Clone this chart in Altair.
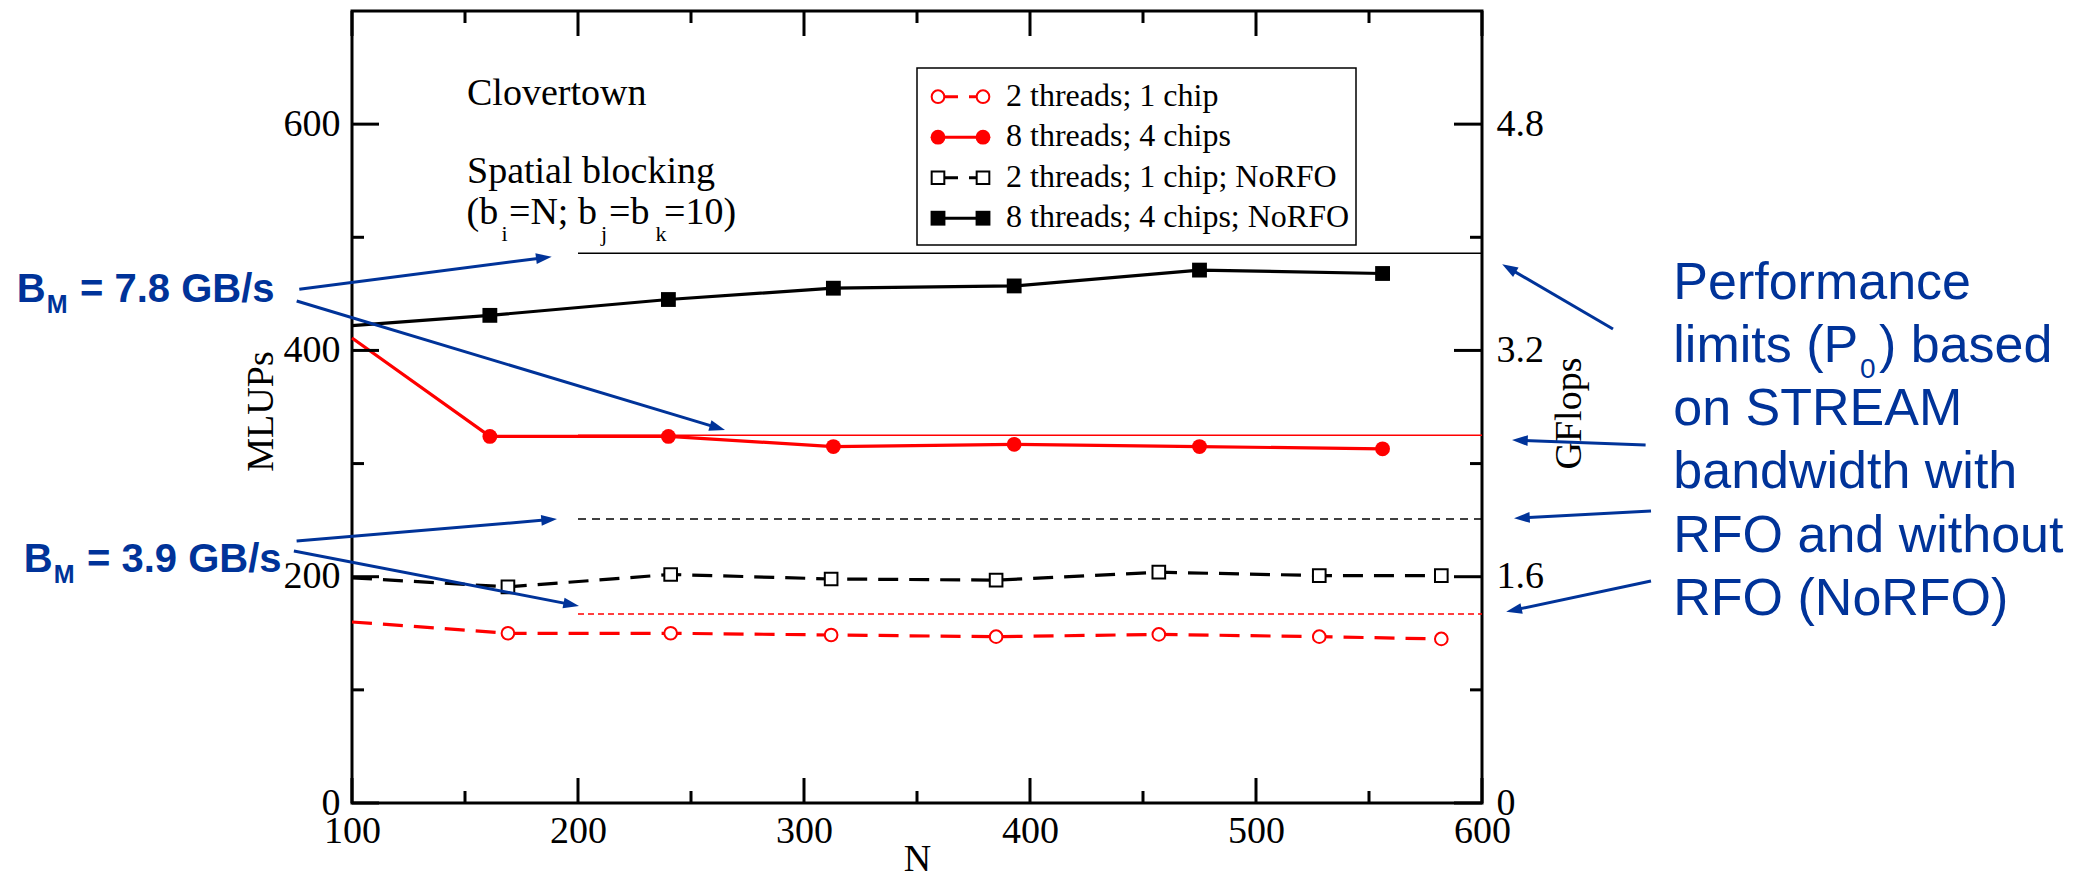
import math
import altair as alt
import pandas as pd

# ---------------- data ----------------
series_names = ["2 threads; 1 chip", "8 threads; 4 chips",
                "2 threads; 1 chip; NoRFO", "8 threads; 4 chips; NoRFO"]
N_2threads = [100, 169, 241, 312, 385, 457, 528, 582]
N_8threads = [100, 161, 240, 313, 393, 475, 556]
mlups_2t_1c = [160, 150, 150, 148.5, 147, 149, 147, 145]
mlups_8t_4c = [411, 324, 324, 315, 317, 315, 313]
mlups_2t_1c_norfo = [199, 191, 202, 198, 197, 204, 201, 201]
mlups_8t_4c_norfo = [422, 431, 445, 455, 457, 471, 468]

limit_mlups = [167, 325, 251, 486]          # P0 lines, same order as series_names
limit_N_start = [200, 200, 200, 200]
limit_N_end = [600, 600, 600, 600]

x_major = [100, 200, 300, 400, 500, 600]
x_minor = [150, 250, 350, 450, 550]
y_major = [0, 200, 400, 600]
y_minor = [100, 300, 500]
gflops_major = [0, 1.6, 3.2, 4.8]
gflops_minor = [0.8, 2.4, 4.0]

# ---------------- styling ----------------
SERIF = "Liberation Serif"
SANS = "Liberation Sans"
BLUE = "#003399"
RED = "#ff0000"
BLACK = "#000000"
W, H = 1130, 792

xs = alt.Scale(domain=[100, 600], nice=False, zero=False)
ys = alt.Scale(domain=[0, 700], nice=False, zero=False)
gs = alt.Scale(domain=[0, 5.6], nice=False, zero=False)

one = pd.DataFrame({"k": [0]})

xaxis = alt.Axis(values=x_major, title="N", grid=False, ticks=False, tickSize=0,
                 domain=False, format="d", labelFont=SERIF, labelFontSize=38,
                 labelColor="black", labelPadding=9, labelFlush=False,
                 labelOverlap=False, labelBaseline="top",
                 titleFont=SERIF, titleFontSize=38, titleFontWeight="normal",
                 titleColor="black", titleY=67, titleBaseline="alphabetic")
yaxis = alt.Axis(values=y_major, title="MLUPs", grid=False, ticks=False, tickSize=0,
                 domain=False, format="d", labelFont=SERIF, labelFontSize=38,
                 labelColor="black", labelPadding=12, labelFlush=False,
                 labelOverlap=False, labelBaseline="middle",
                 titleFont=SERIF, titleFontSize=38, titleFontWeight="normal",
                 titleColor="black", titleAngle=270, titleX=-80, titleY=H / 2 + 4,
                 titleBaseline="alphabetic", titleAlign="center")
raxis = alt.Axis(values=gflops_major, orient="right", title="GFlops", grid=False,
                 ticks=False, tickSize=0, domain=False,
                 labelExpr="datum.value == 0 ? '0' : format(datum.value, '.1f')",
                 labelFont=SERIF, labelFontSize=38, labelColor="black",
                 labelPadding=14, labelFlush=False, labelOverlap=False,
                 labelBaseline="middle",
                 titleFont=SERIF, titleFontSize=38, titleFontWeight="normal",
                 titleColor="black", titleAngle=270, titleX=98, titleY=H / 2 + 6,
                 titleBaseline="alphabetic", titleAlign="center")


def X(field):
    return alt.X(field, scale=xs, axis=xaxis)


def Y(field):
    return alt.Y(field, scale=ys, axis=yaxis)


# series config: values, color, dash, marker shape, filled, size
cfg = [
    (N_2threads, mlups_2t_1c, RED, [20, 11], "circle", False, 160),
    (N_8threads, mlups_8t_4c, RED, None, "circle", True, 220),
    (N_2threads, mlups_2t_1c_norfo, BLACK, [20, 11], "square", False, 160),
    (N_8threads, mlups_8t_4c_norfo, BLACK, None, "square", True, 220),
]
limit_styles = [(RED, [6, 4]), (RED, None), (BLACK, [8, 6]), (BLACK, None)]


def point_mark(shape, filled, color, size):
    if filled:
        return dict(shape=shape, filled=True, color=color, size=size, opacity=1)
    return dict(shape=shape, filled=True, fill="white", stroke=color,
                strokeWidth=2, size=size, opacity=1)


layers = []

# limit lines (P0)
for i, v in enumerate(limit_mlups):
    color, dash = limit_styles[i]
    df = pd.DataFrame({"N0": [limit_N_start[i]], "N1": [limit_N_end[i]], "P0": [v]})
    kw = dict(color=color, strokeWidth=1.5)
    if dash:
        kw["strokeDash"] = dash
    layers.append(alt.Chart(df).mark_rule(**kw).encode(
        x=X("N0:Q"), x2="N1:Q", y=Y("P0:Q")))

# data lines and markers
for Ns, vals, color, dash, shape, filled, size in cfg:
    df = pd.DataFrame({"N": Ns, "MLUPs": vals})
    kw = dict(color=color, strokeWidth=3.2)
    if dash:
        kw["strokeDash"] = dash
    layers.append(alt.Chart(df).mark_line(**kw).encode(x=X("N:Q"), y=Y("MLUPs:Q")))
    layers.append(alt.Chart(df).transform_filter("datum.N > 100")
                  .mark_point(**point_mark(shape, filled, color, size))
                  .encode(x=X("N:Q"), y=Y("MLUPs:Q")))

# inward ticks on all four sides
MAJ, MIN = 25, 12
for vals, ln in ((x_major, MAJ), (x_minor, MIN)):
    d = pd.DataFrame({"v": vals})
    layers.append(alt.Chart(d).mark_rule(color="black", strokeWidth=3).encode(
        x=X("v:Q"), y=alt.value(H), y2=alt.value(H - ln)))
    layers.append(alt.Chart(d).mark_rule(color="black", strokeWidth=3).encode(
        x=X("v:Q"), y=alt.value(0), y2=alt.value(ln)))
for vals, ln in ((y_major, MAJ + 2), (y_minor, MIN)):
    d = pd.DataFrame({"v": vals})
    layers.append(alt.Chart(d).mark_rule(color="black", strokeWidth=3).encode(
        y=Y("v:Q"), x=alt.value(0), x2=alt.value(ln)))


def text_layer(txt, x, y, size, font=SERIF, color="black", weight="normal"):
    return alt.Chart(one).mark_text(
        text=txt, font=font, fontSize=size, fontWeight=weight, color=color,
        align="left", baseline="alphabetic").encode(x=alt.value(x), y=alt.value(y))


# legend
layers.append(alt.Chart(one).mark_rect(fill="white", stroke="black", strokeWidth=1.5)
              .encode(x=alt.value(565), x2=alt.value(1004), y=alt.value(57), y2=alt.value(234)))
for i, name in enumerate(series_names):
    Ns, vals, color, dash, shape, filled, size = cfg[i]
    ry = 85.7 + i * 40.5
    kw = dict(color=color, strokeWidth=3)
    if dash:
        kw["strokeDash"] = dash
    layers.append(alt.Chart(one).mark_rule(**kw).encode(
        x=alt.value(586), x2=alt.value(631), y=alt.value(ry)))
    for mx in (586, 631):
        layers.append(alt.Chart(one).mark_point(**point_mark(shape, filled, color, size))
                      .encode(x=alt.value(mx), y=alt.value(ry)))
    layers.append(text_layer(name, 654, ry + 9, 32))

# in-plot text
layers.append(text_layer("Clovertown", 115, 94, 38))
layers.append(text_layer("Spatial blocking", 115, 172, 38))
for txt, x, y, s in [("(b", 114.5, 213, 38), ("i", 149.5, 230, 22),
                     ("=N; b", 157, 213, 38), ("j", 249, 230, 22),
                     ("=b", 257, 213, 38), ("k", 303.5, 230, 22),
                     ("=10)", 312, 213, 38)]:
    layers.append(text_layer(txt, x, y, s))

# blue annotations (outside the plot)
for (bx, by) in [(-335.3, 290.7), (-328.3, 560.7)]:
    layers.append(text_layer("B", bx, by, 40, SANS, BLUE, "bold"))
    layers.append(text_layer("M", bx + 30, by + 11, 25, SANS, BLUE, "bold"))
layers.append(text_layer("= 7.8 GB/s", -272, 290.7, 40, SANS, BLUE, "bold"))
layers.append(text_layer("= 3.9 GB/s", -265, 560.7, 40, SANS, BLUE, "bold"))

right_lines = [("Performance", 288.3), (None, 350.7), ("on STREAM", 414),
               ("bandwidth with", 477.3), ("RFO and without", 540.7),
               ("RFO (NoRFO)", 604)]
for txt, by in right_lines:
    if txt is None:
        layers.append(text_layer("limits (P", 1321.3, by, 52, SANS, BLUE))
        layers.append(text_layer("0", 1508, by + 16, 28, SANS, BLUE))
        layers.append(text_layer(") based", 1527, by, 52, SANS, BLUE))
    else:
        layers.append(text_layer(txt, 1321.3, by, 52, SANS, BLUE))

arrows = [((-52.7, 278.3), (199.7, 245.7)), ((-55.3, 290), (373, 419)),
          ((-55.4, 530), (205, 508)), ((-58.1, 540), (227, 595)),
          ((1261, 318), (1150.2, 253.3)), ((1293.6, 434), (1160, 429)),
          ((1299, 500), (1162, 507.3)), ((1299, 570), (1154.2, 600.7))]
HEAD = "M0,0L-3.5,-1.2L-3.5,1.2Z"
for (tx, ty), (hx, hy) in arrows:
    dx, dy = hx - tx, hy - ty
    L = math.hypot(dx, dy)
    ux, uy = dx / L, dy / L
    ang = math.degrees(math.atan2(dy, dx)) % 360
    layers.append(alt.Chart(one).mark_rule(color=BLUE, strokeWidth=3).encode(
        x=alt.value(tx), y=alt.value(ty), x2=alt.value(hx - 10 * ux), y2=alt.value(hy - 10 * uy)))
    layers.append(alt.Chart(one).mark_point(shape=HEAD, filled=True, color=BLUE, size=81,
                                            opacity=1, angle=ang)
                  .encode(x=alt.value(hx), y=alt.value(hy)))

main = alt.layer(*layers)

right_layers = []
for vals, ln in ((gflops_major, MAJ + 3), (gflops_minor, MIN)):
    d = pd.DataFrame({"g": vals})
    right_layers.append(alt.Chart(d).mark_rule(color="black", strokeWidth=3).encode(
        y=alt.Y("g:Q", scale=gs, axis=raxis), x=alt.value(W), x2=alt.value(W - ln)))
right = alt.layer(*right_layers)

chart = (alt.layer(main, right)
         .resolve_scale(y="independent")
         .properties(width=W, height=H,
                     autosize=alt.AutoSizeParams(type="none"),
                     padding={"left": 344, "top": 3, "right": 595, "bottom": 70},
                     background="white")
         .configure_view(stroke="black", strokeWidth=3, fill="white"))

chart.save("out.html", embed_options={"renderer": "svg", "actions": False})
